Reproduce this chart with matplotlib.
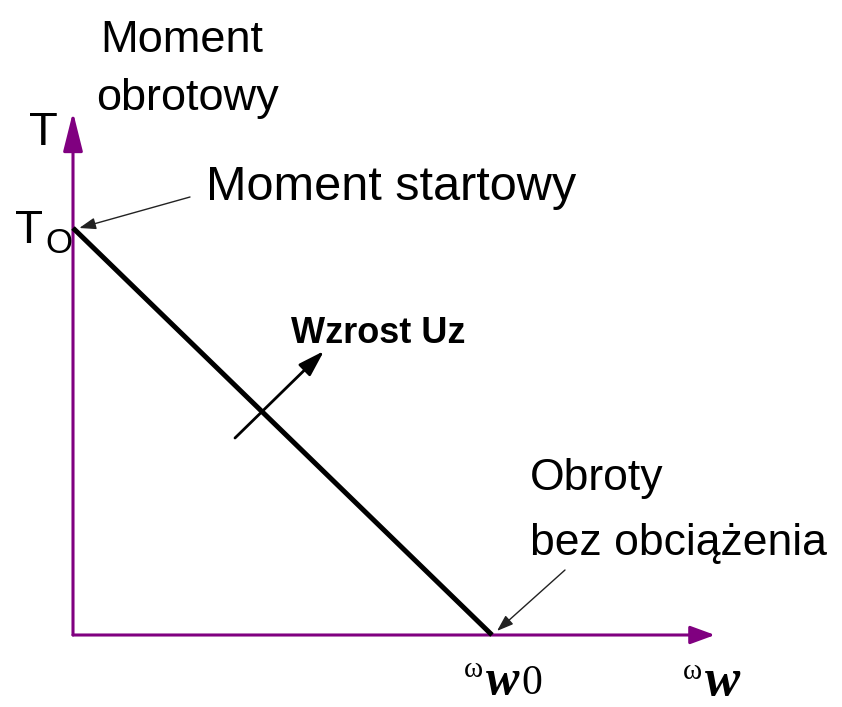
import matplotlib.pyplot as plt

# characteristic of a DC motor: torque falls linearly with speed
speed = [0.0, 1.0]      # omega_w / omega_w0
torque = [1.0, 0.0]     # T / T0

AXIS_COLOR = '#800080'
SANS = ['Liberation Sans', 'DejaVu Sans']
SERIF = ['Liberation Serif', 'DejaVu Serif']

# reference layout: origin at pixel (73, 635), 1 unit = 419 px in x, 407 px in y
X0, Y0, SX, SY = 73, 635, 419, 407
W, H = 842, 707


def px(x, y):
    return (x - X0) / SX, (Y0 - y) / SY


fig = plt.figure(figsize=(W / 100, H / 100), dpi=100)
ax = fig.add_axes([0, 0, 1, 1])
ax.set_xlim(px(0, 0)[0], px(W, 0)[0])
ax.set_ylim(px(0, H)[1], px(0, 0)[1])
ax.axis('off')

# axes with arrow heads
x_end = px(715, 0)[0]
y_end = px(0, 112)[1]
ax.annotate('', xy=(x_end, 0), xytext=(0, 0),
            arrowprops=dict(arrowstyle='-|>,head_length=1.5,head_width=0.55',
                            mutation_scale=10, color=AXIS_COLOR, lw=2.2,
                            shrinkA=0, shrinkB=0))
ax.annotate('', xy=(0, y_end), xytext=(0, 0),
            arrowprops=dict(arrowstyle='-|>,head_length=2.4,head_width=0.6',
                            mutation_scale=10, color=AXIS_COLOR, lw=2.2,
                            shrinkA=0, shrinkB=0))

# characteristic line
ax.plot(speed, torque, color='black', lw=3.6, solid_capstyle='butt', zorder=3)

thin = dict(arrowstyle='-|>,head_length=1.0,head_width=0.35', mutation_scale=10,
            color='#222222', lw=1.0, shrinkA=0, shrinkB=0)

# starting torque
ax.annotate('', xy=(speed[0] + 0.015, torque[0]), xytext=px(190, 197), arrowprops=thin)
ax.text(*px(206, 200), 'Moment startowy', fontsize=35, family=SANS, va='baseline')

# no-load speed
ax.annotate('', xy=(speed[1] + 0.012, torque[1] + 0.01), xytext=px(565, 570), arrowprops=thin)
ax.text(*px(530, 490), 'Obroty', fontsize=32, family=SANS, va='baseline')
ax.text(*px(530, 555), 'bez obciążenia', fontsize=32, family=SANS, va='baseline')

# voltage increase shifts the line
ax.annotate('', xy=px(324, 351), xytext=px(235, 438),
            arrowprops=dict(arrowstyle='-|>,head_length=1.6,head_width=0.5',
                            mutation_scale=10, color='black', lw=2.0,
                            shrinkA=0, shrinkB=0))
ax.text(*px(291, 343), 'Wzrost Uz', fontsize=26, family=SANS, fontweight='bold',
        va='baseline')

# axis titles
ax.text(*px(100, 52), 'Moment', fontsize=32.5, family=SANS, va='baseline')
ax.text(*px(96, 110), 'obrotowy', fontsize=32.5, family=SANS, va='baseline')
ax.text(*px(29, 145), 'T', fontsize=34, family=SANS, va='baseline')
ax.text(*px(15, 243), 'T', fontsize=33, family=SANS, va='baseline')
ax.text(*px(45, 253), 'O', fontsize=25, family=SANS, va='baseline')

ax.text(*px(464, 677), 'ω', fontsize=21, family=SERIF, va='baseline')
ax.text(*px(486, 694), 'w', fontsize=36, family=SERIF, style='italic',
        fontweight='bold', va='baseline')
ax.text(*px(521, 694), '0', fontsize=30, family=SERIF, va='baseline')
ax.text(*px(683, 679), 'ω', fontsize=21, family=SERIF, va='baseline')
ax.text(*px(705, 695), 'w', fontsize=38, family=SERIF, style='italic',
        fontweight='bold', va='baseline')

fig.savefig('out.png', dpi=100, facecolor='white')
